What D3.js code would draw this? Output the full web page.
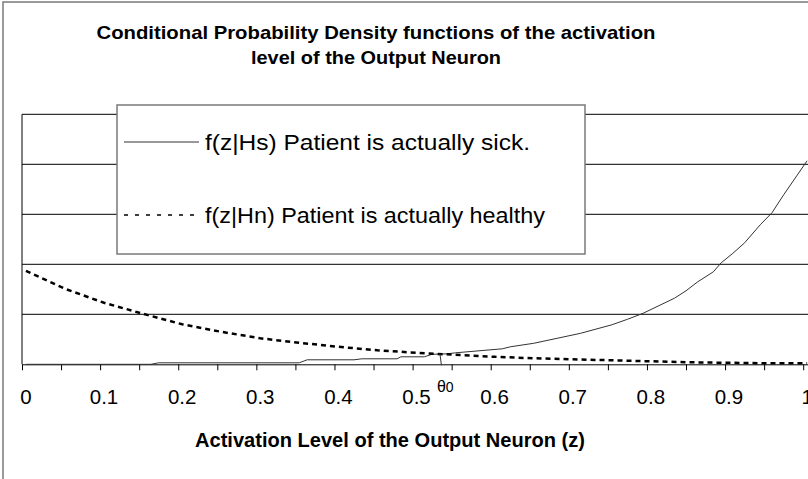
<!DOCTYPE html>
<html>
<head>
<meta charset="utf-8">
<script src="https://cdn.jsdelivr.net/npm/d3@7"></script>
<style>
  html, body { margin: 0; padding: 0; background: #fff; }
  svg { display: block; }
  text { font-family: "Liberation Sans", Arial, sans-serif; fill: #000; }
</style>
</head>
<body>
<svg id="chart" width="808" height="479"></svg>
<script>
// Conditional densities of the output neuron's activation level z
const titleLines = [
  "Conditional Probability Density functions of the activation",
  "level of the Output Neuron"
];
const titleWidths = [559, 250];
const xAxisTitle = "Activation Level of the Output Neuron (z)";
const tickLabels = ["0", "0.1", "0.2", "0.3", "0.4", "0.5", "0.6", "0.7", "0.8", "0.9", "1"];
const tickLabelValues = [0, 0.1, 0.2, 0.3, 0.4, 0.5, 0.6, 0.7, 0.8, 0.9, 1];
const gridValues = [1, 2, 3, 4, 5];

// f(z|Hs): patient is actually sick
const zSick = [0, 0.16, 0.17, 0.35, 0.36, 0.42, 0.43, 0.475, 0.48, 0.51, 0.52, 0.54, 0.55, 0.58, 0.61, 0.62,
               0.65, 0.68, 0.71, 0.75, 0.77, 0.79, 0.83, 0.845, 0.86, 0.88, 0.89, 0.905, 0.92, 0.94, 0.955, 0.97, 1.0];
const fSick = [0, 0, 0.03, 0.03, 0.09, 0.09, 0.11, 0.11, 0.15, 0.15, 0.20, 0.21, 0.23, 0.27, 0.31, 0.35,
               0.42, 0.52, 0.62, 0.79, 0.90, 1.02, 1.32, 1.47, 1.65, 1.85, 2.03, 2.22, 2.43, 2.79, 3.03, 3.39, 4.07];

// f(z|Hn): patient is actually healthy
const zHealthy = [0, 0.05, 0.1, 0.15, 0.2, 0.25, 0.3, 0.35, 0.4, 0.45, 0.5,
                  0.55, 0.6, 0.65, 0.7, 0.75, 0.8, 0.85, 0.9, 0.95, 1.0];
const fHealthy = [1.87, 1.51, 1.23, 1.01, 0.80, 0.65, 0.52, 0.43, 0.35, 0.28, 0.23,
                  0.19, 0.15, 0.12, 0.10, 0.08, 0.06, 0.04, 0.03, 0.02, 0.02];

// decision threshold theta_0 where the densities cross
const theta = 0.53;
const thetaDensity = 0.21;

const legendItems = [
  { label: "f(z|Hs) Patient is actually sick.", dashed: false, width: 325 },
  { label: "f(z|Hn) Patient is actually healthy", dashed: true, width: 340 }
];

const svg = d3.select("#chart");

// outer chart frame
svg.append("rect")
  .attr("x", 3).attr("y", 2).attr("width", 830).attr("height", 500)
  .attr("fill", "#fff").attr("stroke", "#7a7a7a").attr("stroke-width", 1.5);

const plotLeft = 22, plotRight = 811, plotTop = 114.3, plotBottom = 364.3;

// categories sit in the middle of their slots, so the domain is padded half a step
const x = d3.scaleLinear().domain([-0.005, 1.005]).range([plotLeft, plotRight]);
const y = d3.scaleLinear().domain([0, 5]).range([plotBottom, plotTop]);

// horizontal gridlines
svg.append("g").selectAll("line").data(gridValues).join("line")
  .attr("x1", plotLeft).attr("x2", plotRight)
  .attr("y1", d => y(d)).attr("y2", d => y(d))
  .attr("stroke", "#000").attr("stroke-width", 1);

// vertical axis line
svg.append("line")
  .attr("x1", plotLeft).attr("x2", plotLeft)
  .attr("y1", y(5)).attr("y2", y(0))
  .attr("stroke", "#000").attr("stroke-width", 1);

// x axis: tick marks at slot boundaries every 0.05
const tickPositions = d3.range(0, 21).map(k => k * 0.05 - 0.005);
const xAxis = svg.append("g")
  .attr("transform", `translate(0,${plotBottom})`)
  .call(d3.axisBottom(x).tickValues(tickPositions).tickSize(6).tickSizeOuter(0).tickFormat(""));
xAxis.select(".domain").attr("stroke", "#000");
xAxis.selectAll(".tick line").attr("stroke", "#000");

svg.append("g").selectAll("text").data(tickLabelValues).join("text")
  .attr("x", d => x(d)).attr("y", 403.5)
  .attr("text-anchor", "middle")
  .attr("font-size", 20.5)
  .text((d, i) => tickLabels[i]);

// curves
const line = d3.line().x(d => x(d[0])).y(d => y(d[1]));

svg.append("path")
  .datum(zSick.map((z, i) => [z, fSick[i]]))
  .attr("d", line)
  .attr("fill", "none").attr("stroke", "#333").attr("stroke-width", 1);

svg.append("path")
  .datum(zHealthy.map((z, i) => [z, fHealthy[i]]))
  .attr("d", line)
  .attr("fill", "none").attr("stroke", "#000").attr("stroke-width", 2.5)
  .attr("stroke-dasharray", "5,4");

// theta_0 marker
svg.append("line")
  .attr("x1", x(theta)).attr("x2", x(theta) + 1.5)
  .attr("y1", y(thetaDensity)).attr("y2", plotBottom + 1)
  .attr("stroke", "#333").attr("stroke-width", 1);
const thetaLabel = svg.append("text")
  .attr("x", x(theta) - 3).attr("y", 392)
  .attr("font-size", 16);
thetaLabel.append("tspan").text("θ");
thetaLabel.append("tspan").attr("font-size", 14).text("0");

// legend
const legend = svg.append("g");
legend.append("rect")
  .attr("x", 117).attr("y", 105).attr("width", 468).attr("height", 149)
  .attr("fill", "#fff").attr("stroke", "#7a7a7a").attr("stroke-width", 1.5);
const legendRows = [142, 215];
legendItems.forEach((item, i) => {
  const ly = legendRows[i];
  legend.append("line")
    .attr("x1", 124).attr("x2", 199).attr("y1", ly).attr("y2", ly)
    .attr("stroke", item.dashed ? "#000" : "#333")
    .attr("stroke-width", item.dashed ? 1.5 : 1)
    .attr("stroke-dasharray", item.dashed ? "4,7" : null);
  legend.append("text")
    .attr("x", 205).attr("y", ly + 8)
    .attr("font-size", 22)
    .attr("textLength", item.width)
    .attr("lengthAdjust", "spacingAndGlyphs")
    .text(item.label);
});

// titles
svg.append("g").selectAll("text").data(titleLines).join("text")
  .attr("x", 376).attr("y", (d, i) => 39 + i * 25)
  .attr("text-anchor", "middle")
  .attr("font-size", 18.5).attr("font-weight", "bold")
  .attr("textLength", (d, i) => titleWidths[i])
  .attr("lengthAdjust", "spacingAndGlyphs")
  .text(d => d);

svg.append("text")
  .attr("x", 390).attr("y", 447)
  .attr("text-anchor", "middle")
  .attr("font-size", 19.5).attr("font-weight", "bold")
  .attr("textLength", 390)
  .attr("lengthAdjust", "spacingAndGlyphs")
  .text(xAxisTitle);
</script>
</body>
</html>
